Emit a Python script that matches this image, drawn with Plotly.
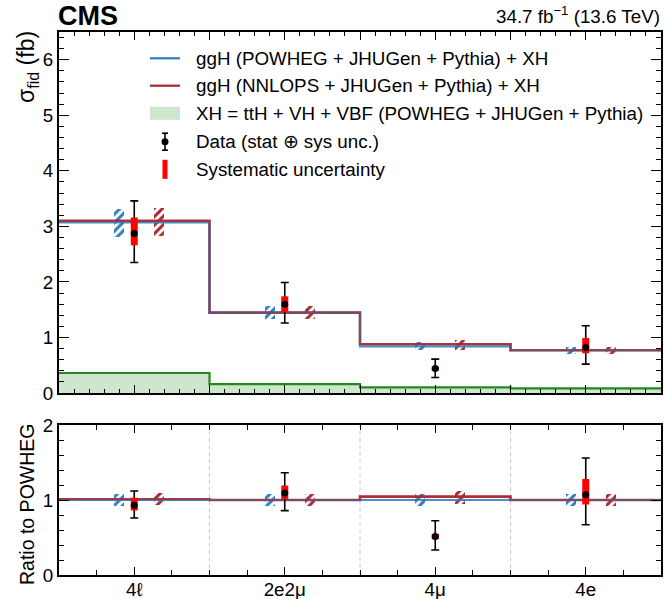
import plotly.graph_objects as go

# ---------------- data ----------------
channels = ["4ℓ", "2e2μ", "4μ", "4e"]
bin_edges = [0, 1, 2, 3, 4]

powheg = [3.07, 1.447, 0.84, 0.77]
nnlops = [3.10, 1.447, 0.877, 0.77]
xh = [0.36, 0.16, 0.10, 0.085]

powheg_lo = [2.81, 1.33, 0.77, 0.70]
powheg_hi = [3.31, 1.57, 0.91, 0.82]
nnlops_lo = [2.82, 1.33, 0.775, 0.70]
nnlops_hi = [3.34, 1.57, 0.955, 0.82]

data = [2.87, 1.60, 0.44, 0.82]
data_err_up = [0.59, 0.39, 0.17, 0.39]
data_err_dn = [0.52, 0.34, 0.16, 0.30]
syst_err_up = [0.29, 0.14, 0.04, 0.17]
syst_err_dn = [0.21, 0.14, 0.04, 0.105]

ratio_powheg = [1.0, 1.0, 1.0, 1.0]
ratio_nnlops = [1.01, 1.0, 1.045, 1.0]
ratio_powheg_lo = [0.92, 0.92, 0.92, 0.92]
ratio_powheg_hi = [1.08, 1.08, 1.08, 1.08]
ratio_nnlops_lo = [0.93, 0.92, 0.95, 0.92]
ratio_nnlops_hi = [1.09, 1.08, 1.12, 1.08]

ratio_data = [0.93, 1.093, 0.513, 1.07]
ratio_err_up = [0.19, 0.27, 0.21, 0.49]
ratio_err_dn = [0.17, 0.235, 0.18, 0.40]
ratio_syst_up = [0.10, 0.10, 0.035, 0.21]
ratio_syst_dn = [0.07, 0.08, 0.035, 0.13]

y_ticks_main = [0, 1, 2, 3, 4, 5, 6]
y_ticks_ratio = [0, 1, 2]

# ---------------- style ----------------
BLUE = "#2f7bbd"
RED = "#a8282e"
GREEN = "#1f8a1f"
GREEN_FILL = "rgba(60,160,60,0.26)"
FONT = "Liberation Sans, Arial, Helvetica, sans-serif"
FS = 18.8

W, H = 664, 599
# plot area in page pixels: x 59..661, y 32..575
ML, MT = 59, 32
MR = W - 661
MB = H - 575
PW, PH = W - ML - MR, H - MT - MB


def px(x):
    return (x - ML) / PW


def py(y):
    return (H - MB - y) / PH


centers = [(bin_edges[i] + bin_edges[i + 1]) / 2 for i in range(len(channels))]
off_blue, off_red, box_w = -0.10, 0.166, 0.066


def step(vals):
    return bin_edges, list(vals) + [vals[-1]]


fig = go.Figure()


def add_panel(xa, ya, blue_vals, red_vals, blo, bhi, rlo, rhi, dvals, eup, edn, sup, sdn, green=None):
    if green is not None:
        sx, sy = step(green)
        fig.add_trace(go.Scatter(x=sx, y=sy, mode="lines", line=dict(color=GREEN, width=2.2, shape="hv"),
                                 fill="tozeroy", fillcolor=GREEN_FILL, xaxis=xa, yaxis=ya, hoverinfo="skip"))
    sx, sy = step(red_vals)
    fig.add_trace(go.Scatter(x=sx, y=sy, mode="lines", line=dict(color=RED, width=2.6, shape="hv"),
                             xaxis=xa, yaxis=ya, opacity=0.9))
    sx, sy = step(blue_vals)
    fig.add_trace(go.Scatter(x=sx, y=sy, mode="lines", line=dict(color=BLUE, width=2.2, shape="hv"),
                             xaxis=xa, yaxis=ya, opacity=0.85))
    sx, sy = step(red_vals)
    fig.add_trace(go.Scatter(x=sx, y=sy, mode="lines", line=dict(color=RED, width=1.6, shape="hv"),
                             xaxis=xa, yaxis=ya, opacity=0.6))
    # hatched theory boxes
    for lo, hi, off, col in [(blo, bhi, off_blue, BLUE), (rlo, rhi, off_red, RED)]:
        fig.add_trace(go.Bar(x=[c + off for c in centers], y=[h - l for h, l in zip(hi, lo)], base=lo,
                             width=box_w, xaxis=xa, yaxis=ya, opacity=1,
                             marker=dict(color="rgba(0,0,0,0)", line=dict(width=0),
                                         pattern=dict(shape="/", fgcolor=col, bgcolor="rgba(0,0,0,0)",
                                                      size=6, solidity=0.5, fgopacity=1))))
    # total uncertainty
    fig.add_trace(go.Scatter(x=centers, y=dvals, mode="markers", marker=dict(size=1, color="black"),
                             error_y=dict(type="data", symmetric=False, array=eup, arrayminus=edn,
                                          color="black", thickness=1.6, width=4),
                             xaxis=xa, yaxis=ya))
    # systematic
    fig.add_trace(go.Scatter(x=centers, y=dvals, mode="markers", marker=dict(size=1, color="rgba(0,0,0,0)"),
                             error_y=dict(type="data", symmetric=False, array=sup, arrayminus=sdn,
                                          color="#ff0000", thickness=7, width=0),
                             xaxis=xa, yaxis=ya))
    fig.add_trace(go.Scatter(x=centers, y=dvals, mode="markers", marker=dict(size=7, color="black"),
                             xaxis=xa, yaxis=ya))


add_panel("x", "y", powheg, nnlops, powheg_lo, powheg_hi, nnlops_lo, nnlops_hi,
          data, data_err_up, data_err_dn, syst_err_up, syst_err_dn, green=xh)
add_panel("x2", "y2", ratio_powheg, ratio_nnlops, ratio_powheg_lo, ratio_powheg_hi,
          ratio_nnlops_lo, ratio_nnlops_hi, ratio_data, ratio_err_up, ratio_err_dn,
          ratio_syst_up, ratio_syst_dn)

main_bottom = py(393)
ratio_top = py(425)

x_tickvals = [i * 0.5 for i in range(9)]

axis_common = dict(showline=True, linecolor="black", linewidth=2, mirror="ticks", ticks="inside",
                   tickcolor="black", tickwidth=1.2, showgrid=False, zeroline=False,
                   tickfont=dict(family=FONT, size=FS, color="black"))

fig.update_layout(
    width=W, height=H, autosize=False,
    margin=dict(l=ML, r=MR, t=MT, b=MB, autoexpand=False),
    paper_bgcolor="white", plot_bgcolor="white",
    showlegend=False, barmode="overlay", bargap=0,
    font=dict(family=FONT, size=FS, color="black"),
    xaxis=dict(domain=[0, 1], range=[0, 4], anchor="y", tickvals=x_tickvals, showticklabels=False,
               ticklen=8, minor=dict(tickmode="linear", tick0=0, dtick=0.1, ticklen=4, ticks="inside",
                                     tickcolor="black"),
               **axis_common),
    yaxis=dict(domain=[main_bottom, 1], range=[0, 6.5], anchor="x", tickvals=y_ticks_main, ticklen=10,
               minor=dict(tickmode="linear", tick0=0, dtick=0.2, ticklen=5, ticks="inside", tickcolor="black"),
               **axis_common),
    xaxis2=dict(domain=[0, 1], range=[0, 4], anchor="y2", tickvals=centers, ticktext=channels,
                ticklen=8, ticklabelstandoff=-4,
                minor=dict(tickmode="linear", tick0=0, dtick=0.25, ticklen=5, ticks="inside",
                           tickcolor="black"),
                **axis_common),
    yaxis2=dict(domain=[0, ratio_top], range=[0, 2], anchor="x2", tickvals=y_ticks_ratio, ticklen=10,
                minor=dict(tickmode="linear", tick0=0, dtick=0.2, ticklen=5, ticks="inside", tickcolor="black"),
                **axis_common),
)

shapes = []
# dashed bin separators in ratio panel
for e in bin_edges[1:-1]:
    shapes.append(dict(type="line", xref="x2", yref="y2 domain", x0=e, x1=e, y0=0, y1=1,
                       line=dict(color="#cccccc", width=1, dash="4px,3px"), layer="below"))

# legend (manual)
leg_y = [58.3, 85.7, 113.3, 141.7, 169.3]
leg_text = ["ggH (POWHEG + JHUGen + Pythia) + XH",
            "ggH (NNLOPS + JHUGen + Pythia) + XH",
            "XH = ttH + VH + VBF (POWHEG + JHUGen + Pythia)",
            "Data (stat ⊕ sys unc.)",
            "Systematic uncertainty"]
shapes.append(dict(type="line", xref="paper", yref="paper", x0=px(150), x1=px(180), y0=py(leg_y[0]), y1=py(leg_y[0]),
                   line=dict(color=BLUE, width=2.2)))
shapes.append(dict(type="line", xref="paper", yref="paper", x0=px(150), x1=px(180), y0=py(leg_y[1]), y1=py(leg_y[1]),
                   line=dict(color=RED, width=2.2)))
shapes.append(dict(type="rect", xref="paper", yref="paper", x0=px(150), x1=px(180), y0=py(leg_y[2] + 6.5),
                   y1=py(leg_y[2] - 6.5), fillcolor=GREEN_FILL, line=dict(width=0)))
# data symbol
shapes.append(dict(type="line", xref="paper", yref="paper", x0=px(165), x1=px(165), y0=py(leg_y[3] + 8.5),
                   y1=py(leg_y[3] - 8.5), line=dict(color="black", width=1.6)))
for dy in (-8.5, 8.5):
    shapes.append(dict(type="line", xref="paper", yref="paper", x0=px(162), x1=px(168), y0=py(leg_y[3] + dy),
                       y1=py(leg_y[3] + dy), line=dict(color="black", width=1.6)))
shapes.append(dict(type="circle", xref="paper", yref="paper", x0=px(161.5), x1=px(168.5), y0=py(leg_y[3] + 3.5),
                   y1=py(leg_y[3] - 3.5), fillcolor="black", line=dict(width=0)))
# syst symbol
shapes.append(dict(type="rect", xref="paper", yref="paper", x0=px(162.5), x1=px(167.5), y0=py(leg_y[4] + 9.5),
                   y1=py(leg_y[4] - 9.5), fillcolor="#ff0000", line=dict(width=0)))

annotations = []
for yv, t in zip(leg_y, leg_text):
    annotations.append(dict(text=t, xref="paper", yref="paper", x=px(194), y=py(yv), xanchor="left",
                            yanchor="middle", showarrow=False, font=dict(family=FONT, size=FS, color="black")))

annotations.append(dict(text="<b>CMS</b>", xref="paper", yref="paper", x=px(56), y=py(16), xanchor="left",
                        yanchor="middle", showarrow=False, font=dict(family=FONT, size=27, color="black")))
annotations.append(dict(text="34.7 fb<sup>−1</sup> (13.6 TeV)", xref="paper", yref="paper", x=px(662), y=py(15),
                        xanchor="right", yanchor="middle", showarrow=False,
                        font=dict(family=FONT, size=FS, color="black")))
annotations.append(dict(text="σ<sub>fid</sub> (fb)", xref="paper", yref="paper", x=px(28), y=py(29),
                        xanchor="center", yanchor="top", textangle=-90, showarrow=False,
                        font=dict(family=FONT, size=23, color="black")))
annotations.append(dict(text="Ratio to POWHEG", xref="paper", yref="paper", x=px(27), y=py(505),
                        xanchor="center", yanchor="middle", textangle=-90, showarrow=False,
                        font=dict(family=FONT, size=19.5, color="black")))

fig.update_layout(shapes=shapes, annotations=annotations)

fig.write_html("out.html", config={"displayModeBar": False},
               post_script="document.body.style.margin='0';document.body.style.overflow='hidden';")
